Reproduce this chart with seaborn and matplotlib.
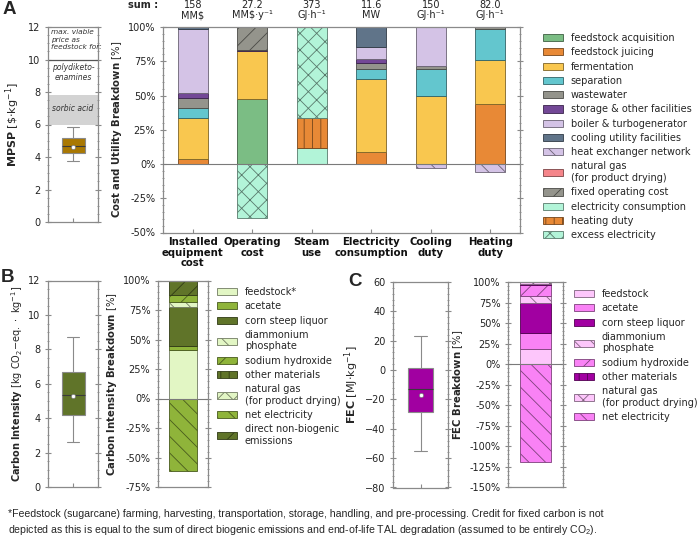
import numpy as np
import matplotlib
matplotlib.use("Agg")
import matplotlib.pyplot as plt
import matplotlib.patches as mpatches
import matplotlib.colors as mcolors
from matplotlib import transforms
from matplotlib.ticker import AutoMinorLocator, FuncFormatter, MultipleLocator
import seaborn as sns

# ---------------- panel A: cost and utility breakdown ----------------
a_cats = ['Installed\nequipment\ncost', 'Operating\ncost', 'Steam\nuse',
          'Electricity\nconsumption', 'Cooling\nduty', 'Heating\nduty']
a_sums = ['158\nMM$', '27.2\nMM$·y⁻¹', '373\nGJ·h⁻¹', '11.6\nMW', '150\nGJ·h⁻¹', '82.0\nGJ·h⁻¹']

feedstock_acquisition = [0, 47.6, 0, 0, 0, 0]
feedstock_juicing = [3.7, 0, 0, 9.0, 0, 43.9]
fermentation = [30.0, 34.6, 0, 53.2, 49.3, 31.7]
separation = [7.3, 0, 0, 7.3, 19.7, 22.7]
wastewater = [7.3, 0, 0, 4.4, 2.2, 1.7]
storage_other = [3.7, 0.8, 0, 2.9, 0, 0]
boiler_turbogen = [46.3, 0, 0, 8.6, 28.8, 0]
cooling_utility = [1.7, 0, 0, 14.6, 0, 0]
heat_exchanger = [0, 0, 0, 0, -3.0, -6.0]
natural_gas_a = [0, 0, 0, 0, 0, 0]
fixed_operating = [0, 17.0, 0, 0, 0, 0]
electricity_cons = [0, 0, 11.7, 0, 0, 0]
heating_duty = [0, 0, 22.0, 0, 0, 0]
excess_electricity = [0, -39.2, 66.3, 0, 0, 0]

# MPSP box (min, q1, median, q3, max) and mean
mpsp_box = [3.75, 4.25, 4.65, 5.15, 5.85]
mpsp_mean = 4.6

# ---------------- panel B: carbon intensity ----------------
ci_box = [2.62, 4.17, 5.36, 6.7, 8.7]
ci_mean = 5.3
ci_feedstock = [41.0]
ci_acetate = [3.7]
ci_csl = [32.5]
ci_dap = [4.3]
ci_naoh = [6.0]
ci_other = [0]
ci_natgas = [0]
ci_electricity = [-61.5]
ci_direct = [12.5]

# ---------------- panel C: fossil energy consumption ----------------
fec_box = [-55.3, -28.7, -12.7, 1.6, 23.2]
fec_mean = -17.0
fec_feedstock = [18.3]
fec_acetate = [19.1]
fec_csl = [37.4]
fec_dap = [8.1]
fec_naoh = [13.4]
fec_other = [1.5]
fec_natgas = [2.2]
fec_electricity = [-119.0]

footnote = ("*Feedstock (sugarcane) farming, harvesting, transportation, storage, handling, "
            "and pre-processing. Credit for fixed carbon is not\ndepicted as this is equal to the sum "
            "of direct biogenic emissions and end-of-life TAL degradation (assumed to be entirely CO$_2$).")

# ---------------- styles ----------------
a_layers = [
    ('feedstock acquisition', feedstock_acquisition, '#7BBD84', ''),
    ('feedstock juicing', feedstock_juicing, '#E88936', ''),
    ('fermentation', fermentation, '#F9C74F', ''),
    ('separation', separation, '#63C6CE', ''),
    ('wastewater', wastewater, '#94948C', ''),
    ('storage & other facilities', storage_other, '#734896', ''),
    ('boiler & turbogenerator', boiler_turbogen, '#D4C3E6', ''),
    ('cooling utility facilities', cooling_utility, '#607489', ''),
    ('heat exchanger network', heat_exchanger, '#D4C3E6', '\\\\'),
    ('natural gas\n(for product drying)', natural_gas_a, '#F5858A', ''),
    ('fixed operating cost', fixed_operating, '#94948C', '//'),
    ('electricity consumption', electricity_cons, '#B2F4D8', ''),
    ('heating duty', heating_duty, '#E88936', '||'),
    ('excess electricity', excess_electricity, '#B2F4D8', 'xx'),
]
g_light, g_mid, g_dark = '#E2F6C4', '#8FB43A', '#607429'
b_layers = [
    ('feedstock*', ci_feedstock, g_light, ''),
    ('acetate', ci_acetate, g_mid, ''),
    ('corn steep liquor', ci_csl, g_dark, ''),
    ('diammonium\nphosphate', ci_dap, g_light, '\\\\'),
    ('sodium hydroxide', ci_naoh, g_mid, '//'),
    ('other materials', ci_other, g_dark, '||'),
    ('natural gas\n(for product drying)', ci_natgas, g_light, 'xx'),
    ('net electricity', ci_electricity, g_mid, '\\\\'),
    ('direct non-biogenic\nemissions', ci_direct, g_dark, '//'),
]
p_light, p_mid, p_dark = '#FDC6FB', '#F982F5', '#A100A1'
c_layers = [
    ('feedstock', fec_feedstock, p_light, ''),
    ('acetate', fec_acetate, p_mid, ''),
    ('corn steep liquor', fec_csl, p_dark, ''),
    ('diammonium\nphosphate', fec_dap, p_light, '\\\\'),
    ('sodium hydroxide', fec_naoh, p_mid, '//'),
    ('other materials', fec_other, p_dark, '||'),
    ('natural gas\n(for product drying)', fec_natgas, p_light, 'xx'),
    ('net electricity', fec_electricity, p_mid, '\\\\'),
]

W, H = 700, 545
sns.set_style('white')
plt.rcParams['font.family'] = ['DejaVu Sans']
plt.rcParams['hatch.linewidth'] = 0.6
plt.rcParams['mathtext.default'] = 'regular'
FS = 7
FRAME = '#8a8a8a'
LEG = dict(loc='upper left', frameon=False, fontsize=FS, labelspacing=0.44, handlelength=2.1,
           handleheight=0.75, handletextpad=0.75, borderpad=0, borderaxespad=0)


def px(l, t, r, b):
    return [l / W, 1 - b / H, (r - l) / W, (b - t) / H]


def dark(c, f=0.5):
    r, g, b = mcolors.to_rgb(c)
    return (r * f, g * f, b * f)


def stack(ax, cats, layers, width):
    pos = np.zeros(len(cats))
    neg = np.zeros(len(cats))
    for name, vals, color, hatch in layers:
        vals = np.asarray(vals, float)
        keep = vals != 0
        if keep.any():
            base = np.where(vals > 0, pos, neg)
            sns.barplot(x=[c for c, k in zip(cats, keep) if k], y=vals[keep], order=cats,
                        bottom=base[keep], width=width, color=color, saturation=1,
                        errorbar=None, hatch=hatch, edgecolor=dark(color), linewidth=0.6, ax=ax)
        pos += np.clip(vals, 0, None)
        neg += np.clip(vals, None, 0)
    ax.axhline(0, color='#7a7a7a', lw=0.8, zorder=3)


def handles(layers):
    return [mpatches.Patch(facecolor=c, edgecolor=dark(c), hatch=h, linewidth=0.6, label=n)
            for n, _, c, h in layers]


def style_axis(ax, major, nminor, pct=False):
    for s in ax.spines.values():
        s.set_color(FRAME)
        s.set_linewidth(0.9)
    ax.yaxis.set_major_locator(MultipleLocator(major))
    ax.yaxis.set_minor_locator(AutoMinorLocator(nminor))
    if pct:
        ax.yaxis.set_major_formatter(FuncFormatter(lambda v, p: f"{v:.0f}%"))
    ax.tick_params(axis='y', which='both', direction='inout', left=True, right=True,
                   color=FRAME, labelcolor='#222222', labelsize=FS)
    ax.tick_params(axis='y', which='major', length=4)
    ax.tick_params(axis='y', which='minor', length=2)
    ax.tick_params(axis='x', direction='in', bottom=True, length=3, color=FRAME,
                   labelcolor='#111111', labelsize=FS)


def boxpanel(ax, data, mean, color, ylim, major, nminor):
    sns.boxplot(y=data, ax=ax, width=0.46, whis=(0, 100), color=color, saturation=1,
                linecolor='#8a8a8a', linewidth=0.8, medianprops={'color': '#3a3a3a'})
    ax.scatter([0], [mean], marker='o', s=9, facecolor='white', edgecolor='#777777',
               linewidth=0.5, zorder=5)
    ax.set_xlim(-0.5, 0.5)
    ax.set_ylim(*ylim)
    ax.set_xticks([0])
    ax.set_xticklabels([''])
    style_axis(ax, major, nminor)


fig = plt.figure(figsize=(W / 100, H / 100), dpi=100)

# ---- A: MPSP ----
ax_mpsp = fig.add_axes(px(48, 27, 98, 222))
ax_mpsp.axhspan(6.0, 7.8, color='#D3D3D3', lw=0, zorder=0)
ax_mpsp.axhline(10, color='#555555', lw=0.9, zorder=1)
ax_mpsp.text(-0.44, 11.85, 'max. viable\nprice as\nfeedstock for:', style='italic', fontsize=5.3,
             va='top', ha='left', linespacing=1.25, color='#333333')
ax_mpsp.text(0, 9.2, 'polydiketo-\nenamines', style='italic', fontsize=5.5, ha='center',
             va='center', linespacing=1.25, color='#333333')
ax_mpsp.text(0, 7.0, 'sorbic acid', style='italic', fontsize=5.5, ha='center', va='center',
             color='#333333')
boxpanel(ax_mpsp, mpsp_box, mpsp_mean, '#A97802', (0, 12), 2, 4)
ax_mpsp.set_ylabel(r'$\mathbf{MPSP}$ [\$$\cdot$kg$^{-1}$]', fontsize=8, labelpad=4)

# ---- A: breakdown ----
ax_a = fig.add_axes(px(163, 27, 520, 232.5))
stack(ax_a, a_cats, a_layers, 0.5)
ax_a.set_ylim(-50, 100)
ax_a.set_xlim(-0.5, 5.5)
style_axis(ax_a, 25, 5, pct=True)
ax_a.set_xticks(range(len(a_cats)))
ax_a.set_xticklabels(a_cats, fontweight='bold', fontsize=7.3, linespacing=1.05)
ax_a.set_xlabel('')
ax_a.set_ylabel(r'$\mathbf{Cost\ and\ Utility\ Breakdown}$ [%]', fontsize=7.3, labelpad=3)
trans = transforms.blended_transform_factory(ax_a.transData, fig.transFigure)
for i, s in enumerate(a_sums):
    ax_a.text(i, 1 - 10 / H, s, transform=trans, ha='center', va='center', fontsize=FS,
              linespacing=1.0, color='#222222')
fig.text(143 / W, 1 - 5 / H, 'sum :', fontweight='bold', fontsize=FS, ha='center', va='center')
fig.legend(handles=handles(a_layers), bbox_to_anchor=(543 / W, 1 - 33 / H), **LEG)

# ---- B ----
ax_ci = fig.add_axes(px(48, 280.5, 98, 487))
boxpanel(ax_ci, ci_box, ci_mean, g_dark, (0, 12), 2, 4)
ax_ci.set_ylabel(r'$\mathbf{Carbon\ Intensity}$ [kg CO$_2$$-$eq.$\ \cdot\ $kg$^{-1}$]',
                 fontsize=7.0, labelpad=2)
ax_b = fig.add_axes(px(158, 280.5, 208, 487))
stack(ax_b, [''], b_layers, 0.55)
ax_b.set_ylim(-75, 100)
ax_b.set_xlim(-0.5, 0.5)
style_axis(ax_b, 25, 5, pct=True)
ax_b.set_xticks([])
ax_b.set_ylabel(r'$\mathbf{Carbon\ Intensity\ Breakdown}$ [%]', fontsize=7.3, labelpad=3)
fig.legend(handles=handles(b_layers), bbox_to_anchor=(217 / W, 1 - 287 / H), **LEG)

# ---- C ----
ax_fec = fig.add_axes(px(393, 282, 448, 487.5))
boxpanel(ax_fec, fec_box, fec_mean, p_dark, (-80, 60), 20, 5)
ax_fec.set_ylabel(r'$\mathbf{FEC}$ [MJ$\cdot$kg$^{-1}$]', fontsize=8, labelpad=3)
ax_c = fig.add_axes(px(508, 282, 563, 487.3))
stack(ax_c, [''], c_layers, 0.55)
ax_c.set_ylim(-150, 100)
ax_c.set_xlim(-0.5, 0.5)
style_axis(ax_c, 25, 5, pct=True)
ax_c.set_xticks([])
ax_c.set_ylabel(r'$\mathbf{FEC\ Breakdown}$ [%]', fontsize=7.3, labelpad=3)
fig.legend(handles=handles(c_layers), bbox_to_anchor=(574 / W, 1 - 289 / H), **LEG)

# ---- panel letters and footnote ----
for letter, x, y in [('A', 3, 10), ('B', 1, 278), ('C', 348, 281)]:
    fig.text(x / W, 1 - y / H, letter, fontsize=13.5, fontweight='bold',
             family='Liberation Sans', ha='left', va='center')
fig.text(8 / W, 1 - 523 / H, footnote, fontsize=7.6, family='Liberation Sans',
         ha='left', va='center', linespacing=1.35)

fig.savefig('out.png', dpi=100)
